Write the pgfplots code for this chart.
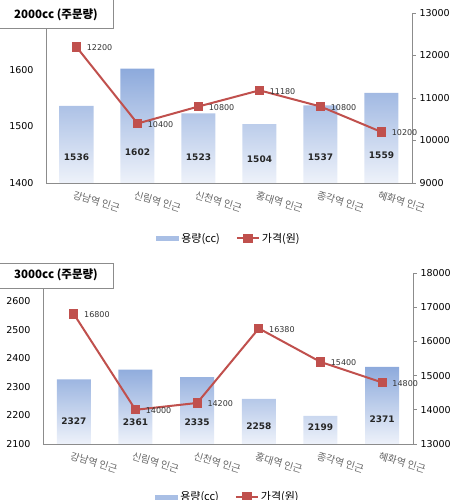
\documentclass[border=0pt]{standalone}
\usepackage{fontspec}
\setmainfont{DejaVu Sans}
\newfontfamily\kr{Noto Sans CJK KR}
\usepackage{pgfplots}
\pgfplotsset{compat=1.18}

\definecolor{barblue}{HTML}{8DAADC}
\definecolor{barlight}{HTML}{EEF2FA}
\definecolor{linered}{HTML}{C0504D}
\definecolor{axgray}{HTML}{8C8C8C}

\pgfplotsset{
  panel/.style={
    scale only axis, width=366pt, height=170pt,
    xmin=-0.5, xmax=5.5,
    axis line style={axgray, line width=0.8pt},
    scaled ticks=false,
    /pgf/number format/assume math mode=true,
    /pgf/number format/1000 sep={},
    tick label style={font=\fontsize{9.5}{10}\selectfont},
  },
  barside/.style={panel,
    axis x line*=bottom, axis y line*=left,
    xtick={0,...,5}, major tick length=0pt,
    xticklabels={강남역 인근, 신림역 인근, 신천역 인근, 홍대역 인근, 종각역 인근, 혜화역 인근},
    xticklabel style={font=\kr\fontsize{10}{11}\selectfont, text=black!60,
      rotate=-17, anchor=north west, yshift=-4pt, xshift=-3pt},
    yticklabel style={xshift=-9pt},
  },
  lineside/.style={panel,
    axis x line=none, axis y line*=right,
    tick align=outside, major tick length=4pt,
    ytick style={axgray, line width=0.8pt},
    legend style={draw=none, fill=none, legend columns=-1,
      font=\kr\fontsize{11}{12}\selectfont,
      /tikz/every even column/.append style={column sep=14pt}},
  },
  redline/.style={linered, line width=2pt, mark=square*, mark size=3.6pt,
    mark options={fill=linered, draw=linered},
    nodes near coords, point meta=explicit symbolic,
    every node near coord/.style={font=\fontsize{8}{9}\selectfont, text=black!80,
      anchor=west, xshift=6pt, yshift=-1pt},
    legend image code/.code={\draw[mark repeat=2, mark phase=2, #1]
      plot coordinates {(0pt,0pt) (11pt,0pt) (22pt,0pt)};}},
  barlegend/.style={legend image code/.code={
      \fill[draw=none, fill=barblue!75] (0pt,-2.5pt) rectangle (23pt,2.5pt);}},
  inbar/.style={draw=none, mark=none, nodes near coords, point meta=explicit symbolic,
    every node near coord/.style={font=\bfseries\fontsize{9}{10}\selectfont,
      text=black!85, anchor=center}},
}

\begin{document}
\begin{tikzpicture}[x=1pt, y=1pt]

% ---------- 2000cc ----------
\begin{axis}[barside, at={(46pt,317pt)}, anchor=south west,
  y coord trafo/.code={\pgfmathparse{#1-1400}},
  y coord inv trafo/.code={\pgfmathparse{#1+1400}},
  ymin=1400, ymax=1700, ytick={1400,1500,1600}, yticklabels={1400,1500,1600}]
  \addplot[ybar, bar width=34pt, draw=none, top color=barblue, bottom color=barlight]
    coordinates {(0,1536) (1,1602) (2,1523) (3,1504) (4,1537) (5,1559)};
  \addplot[inbar] coordinates {(0,1446)[1536] (1,1455)[1602] (2,1446)[1523]
    (3,1442)[1504] (4,1446)[1537] (5,1449)[1559]};
\end{axis}
\begin{axis}[lineside, at={(46pt,317pt)}, anchor=south west,
  ymin=9000, ymax=13000, ytick={9000,10000,...,13000},
  legend style={at={(0.5,-0.325)}, anchor=center}]
  \addlegendimage{barlegend}
  \addlegendentry{용량(cc)}
  \addplot[redline] coordinates {(0,12200)[12200] (1,10400)[10400] (2,10800)[10800]
    (3,11180)[11180] (4,10800)[10800] (5,10200)[10200]};
  \addlegendentry{가격(원)}
\end{axis}
\filldraw[fill=white, draw=axgray, line width=0.8pt] (-2,472) rectangle (113,503);
\node at (56,485) {\kr\bfseries\fontsize{11.5}{13}\selectfont 2000cc (주문량)};

% ---------- 3000cc ----------
\begin{axis}[barside, at={(43pt,56pt)}, anchor=south west, width=370pt, height=171pt,
  y coord trafo/.code={\pgfmathparse{#1-2100}},
  y coord inv trafo/.code={\pgfmathparse{#1+2100}},
  ymin=2100, ymax=2700, ytick={2100,2200,...,2600},
  yticklabels={2100,2200,2300,2400,2500,2600}]
  \addplot[ybar, bar width=34pt, draw=none, top color=barblue, bottom color=barlight]
    coordinates {(0,2327) (1,2361) (2,2335) (3,2258) (4,2199) (5,2371)};
  \addplot[inbar] coordinates {(0,2181)[2327] (1,2177)[2361] (2,2177)[2335]
    (3,2163)[2258] (4,2160)[2199] (5,2188)[2371]};
\end{axis}
\begin{axis}[lineside, at={(43pt,56pt)}, anchor=south west, width=370pt, height=171pt,
  ymin=13000, ymax=18000, ytick={13000,14000,...,18000},
  legend style={at={(0.5,-0.31)}, anchor=center}]
  \addlegendimage{barlegend}
  \addlegendentry{용량(cc)}
  \addplot[redline] coordinates {(0,16800)[16800] (1,14000)[14000] (2,14200)[14200]
    (3,16380)[16380] (4,15400)[15400] (5,14800)[14800]};
  \addlegendentry{가격(원)}
\end{axis}
\filldraw[fill=white, draw=axgray, line width=0.8pt] (-2,212) rectangle (113,237);
\node at (56,225) {\kr\bfseries\fontsize{11.5}{13}\selectfont 3000cc (주문량)};

\pgfresetboundingbox
\path[use as bounding box] (0,0) rectangle (457,500);
\end{tikzpicture}
\end{document}
